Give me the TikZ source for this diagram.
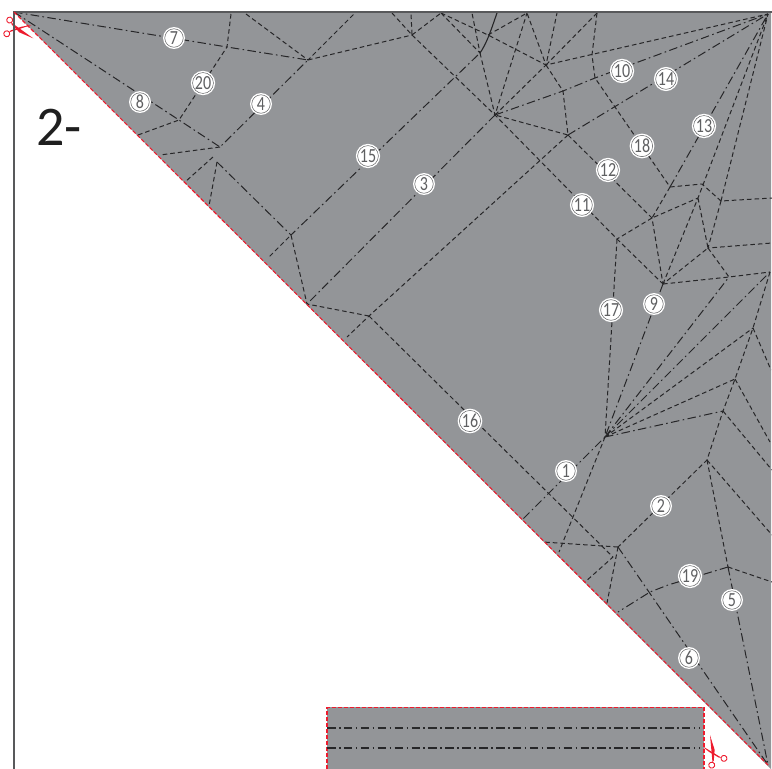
\documentclass[tikz,border=0pt]{standalone}
\usepackage{fontspec}
\setmainfont{Carlito}
\newfontfamily\numfont[FakeStretch=0.8]{Carlito}
\usetikzlibrary{arrows.meta}
\definecolor{paper}{RGB}{147,149,152}
\definecolor{frameline}{RGB}{88,89,91}
\definecolor{creaseline}{RGB}{38,38,40}
\definecolor{cutred}{RGB}{237,28,46}
\definecolor{numgray}{RGB}{95,96,98}
\tikzset{
	valley/.style={creaseline, line width=1pt, dash pattern=on 4.6pt off 3pt},
	mountain/.style={creaseline, line width=1pt, dash pattern=on 8.5pt off 3.4pt on 1.6pt off 3.4pt},
	cutline/.style={cutred, line width=1.1pt, dash pattern=on 4pt off 2pt},
	stepno/.style={circle, fill=white, draw=numgray, line width=0.5pt, inner sep=0pt, minimum size=18.5pt,
		preaction={draw=white, line width=3.4pt}, text=numgray, font=\numfont\fontsize{20}{20}\selectfont},
	scissors/.pic={
		\draw[cutred, line width=0.9pt] (-10,-7) circle (3) (-10,7) circle (3);
		\fill[cutred] (-8,-5) -- (17,6) -- (2,3) -- (-7,-3) -- cycle;
		\fill[cutred] (-8,5) -- (13,-7) -- (3,-3) -- (-7,3) -- cycle;
	}
}

\begin{document}
\begin{tikzpicture}[x=1pt, y=-1pt]
	\useasboundingbox (0,0) rectangle (772,769);
	% corners of the sheet and crease vertices
	\coordinate (tl) at (14,12);
	\coordinate (tr) at (768,14);
	\coordinate (br) at (768,765);
	\coordinate (va) at (227,47);
	\coordinate (vb) at (308,60);
	\coordinate (vc) at (179,120);
	\coordinate (vd) at (220,147);
	\coordinate (ve) at (213,157);
	\coordinate (vf) at (217,162);
	\coordinate (vg) at (291,235);
	\coordinate (vh) at (307,304);
	\coordinate (vi) at (369,316);
	\coordinate (vj) at (412,35);
	\coordinate (vk) at (441,13);
	\coordinate (vl) at (488,35);
	\coordinate (vm) at (480,53);
	\coordinate (vn) at (495,115);
	\coordinate (vo) at (546,65);
	\coordinate (vp) at (563,91);
	\coordinate (vq) at (595,78);
	\coordinate (vr) at (568,135);
	\coordinate (vs) at (670,187);
	\coordinate (vt) at (652,218);
	\coordinate (vu) at (617,239);
	\coordinate (vw) at (663,284);
	\coordinate (vx) at (698,198);
	\coordinate (vy) at (702,184);
	\coordinate (vz) at (721,201);
	\coordinate (wa) at (708,248);
	\coordinate (wb) at (729,277);
	\coordinate (wc) at (770,272);
	\coordinate (wd) at (753,328);
	\coordinate (we) at (735,379);
	\coordinate (wf) at (723,411);
	\coordinate (wg) at (707,460);
	\coordinate (wh) at (728,567);
	\coordinate (wi) at (618,547);
	\coordinate (wj) at (613,557);
	\coordinate (hub) at (605,437);

	\fill[paper] (tl) -- (771,12) -- (771,769) -- cycle;
	\fill[paper] (327,707) rectangle (704,769);

	% valley folds
	\draw[valley] (231,14) -- (va) -- (vc) -- (138,135);
	\draw[valley] (vd) -- (160,155) (ve) -- (185,182) (vf) -- (209,206);
	\draw[valley] (246,14) -- (vb) -- (355,13) (vb) -- (vj);
	\draw[valley] (392,13) -- (vj) -- (411,13) (vj) -- (vk);
	\draw[valley] (vj) -- (vn) -- (vu) -- (vw);
	\draw[valley] (vk) -- (vl) -- (vo) -- (557,13) (vo) -- (597,13);
	\draw[valley] (vk) -- (vm) -- (472,13) (vl) -- (527,13) -- (vo);
	\draw[valley] (vm) -- (vn) -- (527,13) (vn) -- (vo) -- (tr);
	\draw[valley] (vo) -- (vp) -- (vr) -- (vn);
	\draw[valley] (597,13) -- (592,55) -- (vq) -- (vs);
	\draw[valley] (vr) -- (vt) -- (vw) (vt) -- (vu);
	\draw[valley] (vr) -- (vi) -- (347,337) (vi) -- (wj) -- (585,582);
	\draw[valley] (vi) -- (vh) -- (vg) -- (268,258);
	\draw[valley] (vs) -- (vt) -- (vx) (vs) -- (vy) -- (vz) -- (772,198);
	\draw[valley] (vz) -- (wa) -- (772,243) (vz) -- (tr);
	\draw[valley] (vw) -- (vx) -- (tr) (vx) -- (wa) -- (vw) (wa) -- (wb);
	\draw[valley] (vw) -- (wb) -- (wc);
	\draw[valley] (vu) -- (hub);
	\draw[valley] (hub) -- (wd) (hub) -- (we);
	\draw[valley] (wc) -- (wd) -- (we) -- (wf) -- (wg) -- (wi);
	\draw[valley] (wd) -- (771,370) (we) -- (770,442) (wf) -- (772,470) (wg) -- (772,535);
	\draw[valley] (wg) -- (wh) (wh) -- (772,582);
	\draw[valley] (hub) -- (559,552);
	\draw[valley] (wi) -- (543,542) (wi) -- (607,603);
	% mountain folds
	\draw[mountain] (tl) -- (va) -- (vb);
	\draw[mountain] (tl) -- (vc) -- (vd) -- (vb);
	\draw[mountain] (vf) -- (vg) -- (vm);
	\draw[mountain] (vn) -- (vh);
	\draw[mountain] (vn) -- (vp) -- (vq) -- (tr);
	\draw[mountain] (vr) -- (tr) (vs) -- (tr);
	\draw[mountain] (vw) -- (hub) -- (523,519);
	\draw[mountain] (hub) -- (wb) (hub) -- (wc) (hub) -- (wf);
	\draw[mountain] (wh) -- (br) (wi) -- (br);
	\draw[mountain] (wh) -- (668,585) -- (650,592) -- (618,612);
	\draw[creaseline, line width=1.1pt] (497,13) .. controls (491,30) and (487,43) .. (vm);

	\pic[rotate=-12] at (18,29) {scissors};
	\pic[rotate=119] at (713,753) {scissors};
	\fill[paper] (690,707) rectangle (704,769);

	% outline of the sheet
	\draw[frameline, line width=2.4pt] (14,769) -- (14,12) -- (772,12);
	\draw[cutline] (tl) -- (br);
	\draw[cutline] (327,769) -- (327,707.5) -- (704,707.5) -- (704,769);
	\draw[mountain, black!72!paper, line width=1.3pt] (327,728) -- (699,728);
	\draw[mountain, creaseline, line width=1.3pt] (327,748) -- (699,748);

	\node[text=black!88] (big) at (59,127) {\fontsize{56}{56}\selectfont 2-};
	\node[stepno] (no1) at (566,471) {1};
	\node[stepno] (no2) at (661,506) {2};
	\node[stepno] (no3) at (424,184) {3};
	\node[stepno] (no4) at (261,104) {4};
	\node[stepno] (no5) at (732,600) {5};
	\node[stepno] (no6) at (689,658) {6};
	\node[stepno] (no7) at (174,38) {7};
	\node[stepno] (no8) at (140,102) {8};
	\node[stepno] (no9) at (654,304) {9};
	\node[stepno] (no10) at (622,71) {10};
	\node[stepno] (no11) at (582,205) {11};
	\node[stepno] (no12) at (608,170) {12};
	\node[stepno] (no13) at (704,126) {13};
	\node[stepno] (no14) at (666,79) {14};
	\node[stepno] (no15) at (368,156) {15};
	\node[stepno] (no16) at (470,421) {16};
	\node[stepno] (no17) at (611,310) {17};
	\node[stepno] (no18) at (642,146) {18};
	\node[stepno] (no19) at (690,576) {19};
	\node[stepno] (no20) at (203,83) {20};
\end{tikzpicture}
\end{document}
